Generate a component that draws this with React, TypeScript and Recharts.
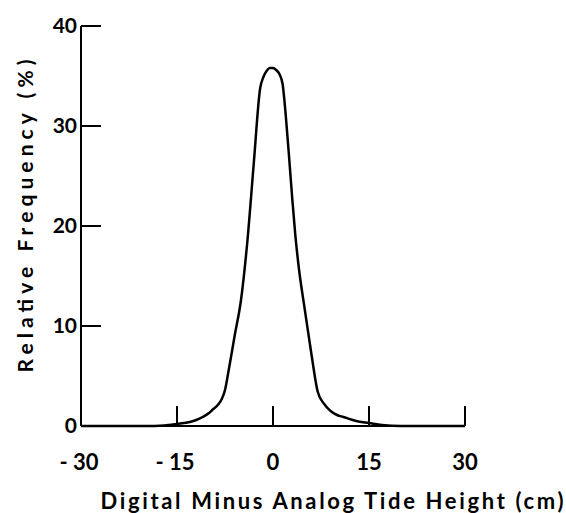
import React from "react";
import { LineChart, Line, XAxis, YAxis, Label } from "recharts";

const diffCm = [-30, -20, -17, -15, -13, -12, -11, -10, -9.5, -8.5, -8, -7.5, -7, -6, -5, -4, -3, -2, -1.5, -1, -0.5, 0, 0.5, 1, 1.5, 2, 2.5, 3, 3.5, 4, 5, 6, 7, 8, 9, 10, 11, 13, 15, 17, 20, 30];
const relFreq = [0, 0, 0.05, 0.2, 0.4, 0.6, 0.9, 1.3, 1.6, 2.2, 2.7, 3.6, 5.3, 9, 12.6, 18.5, 26.3, 33.8, 34.9, 35.5, 35.8, 35.8, 35.6, 35.2, 34.2, 31, 27, 22.8, 19, 16, 11.5, 7.2, 3.4, 2.2, 1.5, 1.1, 0.9, 0.5, 0.3, 0.1, 0, 0];
const xTicks = [-30, -15, 0, 15, 30];
const yTicks = [0, 10, 20, 30, 40];
const xTitle = "Digital Minus Analog Tide Height (cm)";
const yTitle = "Relative Frequency (%)";

const data = diffCm.map((x, i) => ({ x, y: relFreq[i] }));

const FONT = "Lato, 'DejaVu Sans', sans-serif";

const XTick = (props: any) => {
  const { x, y, payload } = props;
  const v = payload.value;
  const label = v < 0 ? `- ${Math.abs(v)}` : `${v}`;
  return (
    <g>
      {v !== -30 && <line x1={x} y1={y} x2={x} y2={y - 20} stroke="#000" strokeWidth={2} />}
      <text x={x + (v < 0 ? -2 : 0)} y={y + 44} textAnchor="middle" fontFamily={FONT} fontWeight={700} fontSize={22} fill="#000">
        {label}
      </text>
    </g>
  );
};

const YTick = (props: any) => {
  const { x, y, payload } = props;
  return (
    <g>
      <line x1={x} y1={y} x2={x + 20} y2={y} stroke="#000" strokeWidth={2} />
      <text x={x - 4} y={y + 7} textAnchor="end" fontFamily={FONT} fontWeight={700} fontSize={21} fill="#000">
        {payload.value}
      </text>
    </g>
  );
};

const XTitle = (props: any) => {
  const { viewBox } = props;
  const cx = viewBox.x + viewBox.width / 2 + 59;
  return (
    <text x={cx} y={viewBox.y + 83} textAnchor="middle" fontFamily={FONT} fontWeight={700} fontSize={22} fill="#000" textLength={463} lengthAdjust="spacing">
      {xTitle}
    </text>
  );
};

const YTitle = (props: any) => {
  const { viewBox } = props;
  const tx = viewBox.x + viewBox.width - 48;
  const ty = viewBox.y + viewBox.height / 2 - 10;
  return (
    <text x={tx} y={ty} transform={`rotate(-90 ${tx} ${ty})`} textAnchor="middle" fontFamily={FONT} fontWeight={700} fontSize={21} fill="#000" textLength={313} lengthAdjust="spacing">
      {yTitle}
    </text>
  );
};

export default function App() {
  return (
    <div style={{ position: "absolute", left: 0, top: 0, width: 566, height: 513, background: "#fff" }}>
      <LineChart width={566} height={513} data={data} margin={{ top: 26, right: 101, bottom: 47, left: 21 }}>
        <XAxis
          type="number"
          dataKey="x"
          domain={[-30, 30]}
          ticks={xTicks}
          height={40}
          tickSize={0}
          tickMargin={0}
          tickLine={false}
          tick={<XTick />}
          axisLine={{ stroke: "#000", strokeWidth: 2 }}
          interval={0}
        >
          <Label content={<XTitle />} />
        </XAxis>
        <YAxis
          type="number"
          domain={[0, 40]}
          ticks={yTicks}
          width={60}
          tickSize={0}
          tickMargin={0}
          tickLine={false}
          tick={<YTick />}
          axisLine={{ stroke: "#000", strokeWidth: 2 }}
          interval={0}
        >
          <Label content={<YTitle />} />
        </YAxis>
        <Line type="monotone" dataKey="y" stroke="#000" strokeWidth={2.5} dot={false} isAnimationActive={false} />
      </LineChart>
    </div>
  );
}
